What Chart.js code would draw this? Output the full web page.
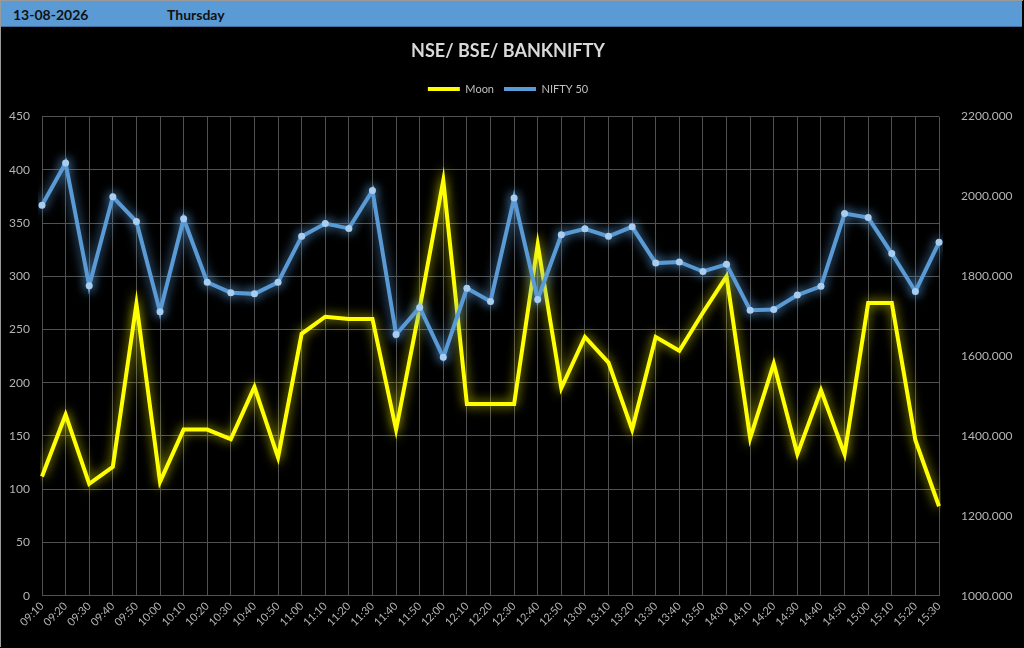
<!DOCTYPE html>
<html>
<head>
<meta charset="utf-8">
<script src="https://cdn.jsdelivr.net/npm/chart.js@4.4.1/dist/chart.umd.min.js"></script>
<style>
	html, body { margin: 0; padding: 0; background: #000; }
	#wrap { position: relative; width: 1024px; height: 648px; background: #000; overflow: hidden; }
	#head {
		position: absolute; left: 1px; top: 1px; width: 1021px; height: 25px;
		background: #5b9bd5; border-bottom: 1px solid #41719c;
		font-family: Lato, "Open Sans", sans-serif; font-weight: bold; font-size: 14px; color: #111;
	}
	#head span { position: absolute; top: 5px; }
	#chartBox { position: absolute; left: 0; top: 0; width: 1024px; height: 648px; }
	#edge { position: absolute; left: 0; top: 0; width: 1023px; height: 647px; border-left: 1px solid #9a9a9a; border-top: 1px solid #9a9a9a; box-sizing: border-box; pointer-events: none; }
</style>
</head>
<body>
<div id="wrap">
	<div id="chartBox"><canvas id="chart" width="1024" height="648"></canvas></div>
	<div id="head"><span style="left:12px">13-08-2026</span><span style="left:166px">Thursday</span></div>
	<div id="edge"></div>
</div>
<script>
const labels = ['09:10','09:20','09:30','09:40','09:50','10:00','10:10','10:20','10:30','10:40',
	'10:50','11:00','11:10','11:20','11:30','11:40','11:50','12:00','12:10','12:20',
	'12:30','12:40','12:50','13:00','13:10','13:20','13:30','13:40','13:50','14:00',
	'14:10','14:20','14:30','14:40','14:50','15:00','15:10','15:20','15:30'];

const moon = [112, 170, 105, 121, 274, 107, 156, 156, 147, 196,
	130, 246, 262, 260, 260, 156, 270, 390, 180, 180,
	180, 330, 195, 243, 219, 156, 243, 230, 266, 300,
	148, 218, 133, 193, 133, 275, 275, 146, 84];

const nifty = [1978, 2084, 1776, 1999, 1937, 1711, 1944, 1785, 1759, 1756,
	1785, 1900, 1932, 1920, 2015, 1654, 1722, 1597, 1770, 1737,
	1996, 1742, 1904, 1919, 1900, 1924, 1833, 1836, 1812, 1830,
	1715, 1717, 1753, 1775, 1957, 1947, 1857, 1762, 1885];

const FONT = 'Lato, "Open Sans", sans-serif';
const TICK = '#b4b4b4';
const GRID = '#515151';

// soft glow round each series, like the Excel "glow" effect
const glow = {
	id: 'glow',
	beforeDatasetDraw(chart, args) {
		const ds = chart.data.datasets[args.index];
		chart.ctx.save();
		chart.ctx.shadowColor = ds.glowColor;
		chart.ctx.shadowBlur = 11;
	},
	afterDatasetDraw(chart) {
		chart.ctx.restore();
	}
};

// a bit more room between the legend and the plot
const legendGap = {
	id: 'legendGap',
	beforeUpdate(chart) {
		const lg = chart.legend;
		if (lg && !lg._gap) {
			const fit = lg.fit;
			lg.fit = function () {
				fit.apply(this, arguments);
				this.height += 12;
			};
			lg._gap = true;
		}
	}
};

new Chart(document.getElementById('chart'), {
	type: 'line',
	data: {
		labels: labels,
		datasets: [{
			label: 'Moon',
			data: moon,
			yAxisID: 'y',
			borderColor: '#ffff00',
			backgroundColor: '#ffff00',
			glowColor: 'rgba(255,255,0,0.8)',
			borderWidth: 4,
			pointRadius: 0,
			tension: 0,
			order: 2
		}, {
			label: 'NIFTY 50',
			data: nifty,
			yAxisID: 'y1',
			borderColor: '#5b9bd5',
			backgroundColor: '#5b9bd5',
			glowColor: 'rgba(91,155,213,0.95)',
			borderWidth: 4,
			pointRadius: 3.5,
			pointBackgroundColor: '#a9cdef',
			pointBorderColor: '#a9cdef',
			pointBorderWidth: 0,
			tension: 0,
			order: 1
		}]
	},
	options: {
		responsive: false,
		animation: false,
		devicePixelRatio: 1,
		layout: { padding: { top: 40, left: 0, right: 8, bottom: 15 } },
		plugins: {
			title: {
				display: true,
				text: 'NSE/ BSE/ BANKNIFTY',
				color: '#d9d9d9',
				font: { family: FONT, size: 18, weight: 'bold' },
				padding: { top: 0, bottom: 12 }
			},
			legend: {
				labels: {
					color: '#bfbfbf',
					font: { family: FONT, size: 11 },
					boxWidth: 32,
					boxHeight: 4,
					padding: 10,
					sort: (a, b) => a.datasetIndex - b.datasetIndex,
					generateLabels: chart => Chart.defaults.plugins.legend.labels.generateLabels(chart)
						.map(l => Object.assign(l, { lineWidth: 0 }))
				}
			},
			tooltip: { enabled: false }
		},
		scales: {
			x: {
				offset: false,
				grid: { color: GRID, drawTicks: false },
				border: { color: GRID },
				ticks: {
					color: TICK, font: { family: FONT, size: 11 },
					minRotation: 45, maxRotation: 45, autoSkip: false, padding: 4
				}
			},
			y: {
				position: 'left',
				min: 0, max: 450,
				grid: { color: GRID, drawTicks: false },
				border: { color: GRID },
				ticks: { stepSize: 50, color: TICK, font: { family: FONT, size: 12 }, padding: 12 },
				afterFit: s => { s.width = 42; }
			},
			y1: {
				position: 'right',
				min: 1000, max: 2200,
				grid: { display: false },
				border: { display: false },
				ticks: {
					stepSize: 200, color: TICK, font: { family: FONT, size: 12 }, padding: 14,
					callback: v => v.toFixed(3)
				},
				afterFit: s => { s.width = 77; }
			}
		}
	},
	plugins: [glow, legendGap]
});
</script>
</body>
</html>
